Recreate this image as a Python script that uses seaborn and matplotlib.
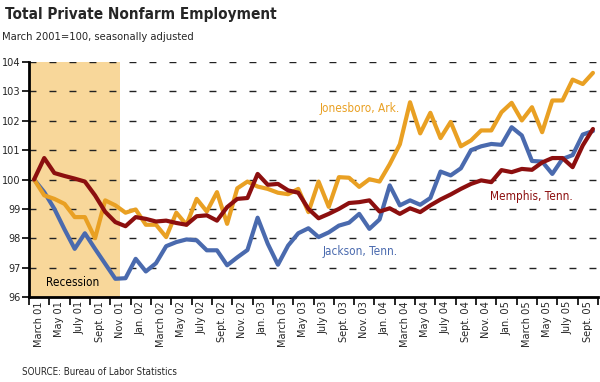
import pandas as pd
import matplotlib.pyplot as plt
import seaborn as sns

# monthly index values, March 2001 = 100 (March 2001 .. October 2005)
jonesboro = [100.0, 99.46, 99.34, 99.17, 98.72, 98.72, 98.0, 99.29, 99.12, 98.87,
             98.98, 98.46, 98.46, 98.04, 98.87, 98.46, 99.34, 98.91, 99.57, 98.49,
             99.7, 99.93, 99.76, 99.68, 99.55, 99.5, 99.68, 98.89, 99.93, 99.07,
             100.08, 100.06, 99.75, 100.01, 99.93, 100.52, 101.2, 102.63, 101.57, 102.27,
             101.41, 101.96, 101.13, 101.33, 101.67, 101.67, 102.29, 102.61, 102.01, 102.46,
             101.61, 102.69, 102.69, 103.4, 103.25, 103.63]
memphis = [100.0, 100.73, 100.22, 100.12, 100.03, 99.93, 99.46, 98.9, 98.55, 98.41,
           98.72, 98.66, 98.57, 98.6, 98.52, 98.46, 98.75, 98.78, 98.6, 99.06,
           99.34, 99.37, 100.19, 99.82, 99.85, 99.63, 99.55, 99.0, 98.68, 98.83,
           99.0, 99.2, 99.23, 99.29, 98.91, 99.02, 98.83, 99.02, 98.89, 99.12,
           99.32, 99.49, 99.68, 99.85, 99.97, 99.91, 100.32, 100.25, 100.36, 100.33,
           100.58, 100.73, 100.73, 100.42, 101.16, 101.72]
jackson = [100.0, 99.57, 99.0, 98.3, 97.64, 98.17, 97.64, 97.13, 96.62, 96.64,
           97.3, 96.87, 97.15, 97.73, 97.87, 97.96, 97.93, 97.59, 97.59, 97.08,
           97.35, 97.6, 98.7, 97.81, 97.1, 97.75, 98.17, 98.34, 98.04, 98.2,
           98.43, 98.53, 98.83, 98.32, 98.64, 99.8, 99.12, 99.29, 99.14, 99.37,
           100.27, 100.14, 100.38, 101.0, 101.13, 101.21, 101.18, 101.78, 101.5, 100.63,
           100.61, 100.19, 100.7, 100.83, 101.53, 101.65]

tick_labels = ['March 01', 'May 01', 'July 01', 'Sept. 01', 'Nov. 01',
               'Jan. 02', 'March 02', 'May 02', 'July 02', 'Sept. 02', 'Nov. 02',
               'Jan. 03', 'March 03', 'May 03', 'July 03', 'Sept. 03', 'Nov. 03',
               'Jan. 04', 'March 04', 'May 04', 'July 04', 'Sept. 04', 'Nov. 04',
               'Jan. 05', 'March 05', 'May 05', 'July 05', 'Sept. 05']
recession_months = 9  # March - November 2001

n = len(jonesboro)
frames = []
for name, vals in [('Jackson, Tenn.', jackson), ('Jonesboro, Ark.', jonesboro),
                   ('Memphis, Tenn.', memphis)]:
    frames.append(pd.DataFrame({'month': [i + 0.5 for i in range(n)],
                                'value': vals, 'city': name}))
df = pd.concat(frames)

colors = {'Jonesboro, Ark.': '#e9a023', 'Memphis, Tenn.': '#8c0f0f',
          'Jackson, Tenn.': '#4a6aae'}

sns.set_style('white')
plt.rcParams['font.family'] = ['DejaVu Sans']
plt.rcParams['font.stretch'] = 'condensed'

fig = plt.figure(figsize=(6, 3.82), dpi=100)
ax = fig.add_axes([0.0483, 0.2225, 0.9484, 0.6152])

ax.axvspan(0, recession_months, color='#f8d79a', lw=0, zorder=0)
for v in range(97, 105):
    ax.axhline(v, color='#222222', lw=1.0, dashes=(5, 9.4), zorder=1)

sns.lineplot(data=df, x='month', y='value', hue='city', palette=colors,
             hue_order=['Jackson, Tenn.', 'Jonesboro, Ark.', 'Memphis, Tenn.'],
             linewidth=3, legend=False, ax=ax, zorder=3)

ax.set_xlim(0, 56)
ax.set_ylim(96, 104)
ax.set_xlabel('')
ax.set_ylabel('')

ax.set_xticks(range(0, 57, 2))
ax.set_xticklabels([])
ax.set_xticks([2 * k + 1 for k in range(len(tick_labels))], minor=True)
ax.set_xticklabels(tick_labels, minor=True, rotation=90, fontsize=7.8)
ax.tick_params(axis='x', which='major', length=6, width=1.2, direction='out',
               bottom=True, color='black')
ax.tick_params(axis='x', which='minor', length=0, pad=3)
ax.set_yticks(range(96, 105))
ax.tick_params(axis='y', length=5, width=1.2, direction='out', left=True,
               labelsize=7.8, pad=1, color='black')

for side in ['top', 'right']:
    ax.spines[side].set_visible(False)
for side in ['left', 'bottom']:
    ax.spines[side].set_color('black')
    ax.spines[side].set_linewidth(2)

ax.text(1.7, 96.48, 'Recession', fontsize=8.5, color='black', va='center')
ax.text(28.6, 102.42, 'Jonesboro, Ark.', fontsize=8.5, color=colors['Jonesboro, Ark.'],
        va='center')
ax.text(45.4, 99.42, 'Memphis, Tenn.', fontsize=8.5, color=colors['Memphis, Tenn.'],
        va='center')
ax.text(28.9, 97.55, 'Jackson, Tenn.', fontsize=8.5, color=colors['Jackson, Tenn.'],
        va='center')

fig.text(0.008, 0.963, 'Total Private Nonfarm Employment', fontsize=11,
         fontweight='bold', va='center')
fig.text(0.004, 0.902, 'March 2001=100, seasonally adjusted', fontsize=8,
         va='center')
fig.text(0.036, 0.026, 'SOURCE: Bureau of Labor Statistics', fontsize=7,
         va='center')

fig.savefig('out.png', dpi=100)
